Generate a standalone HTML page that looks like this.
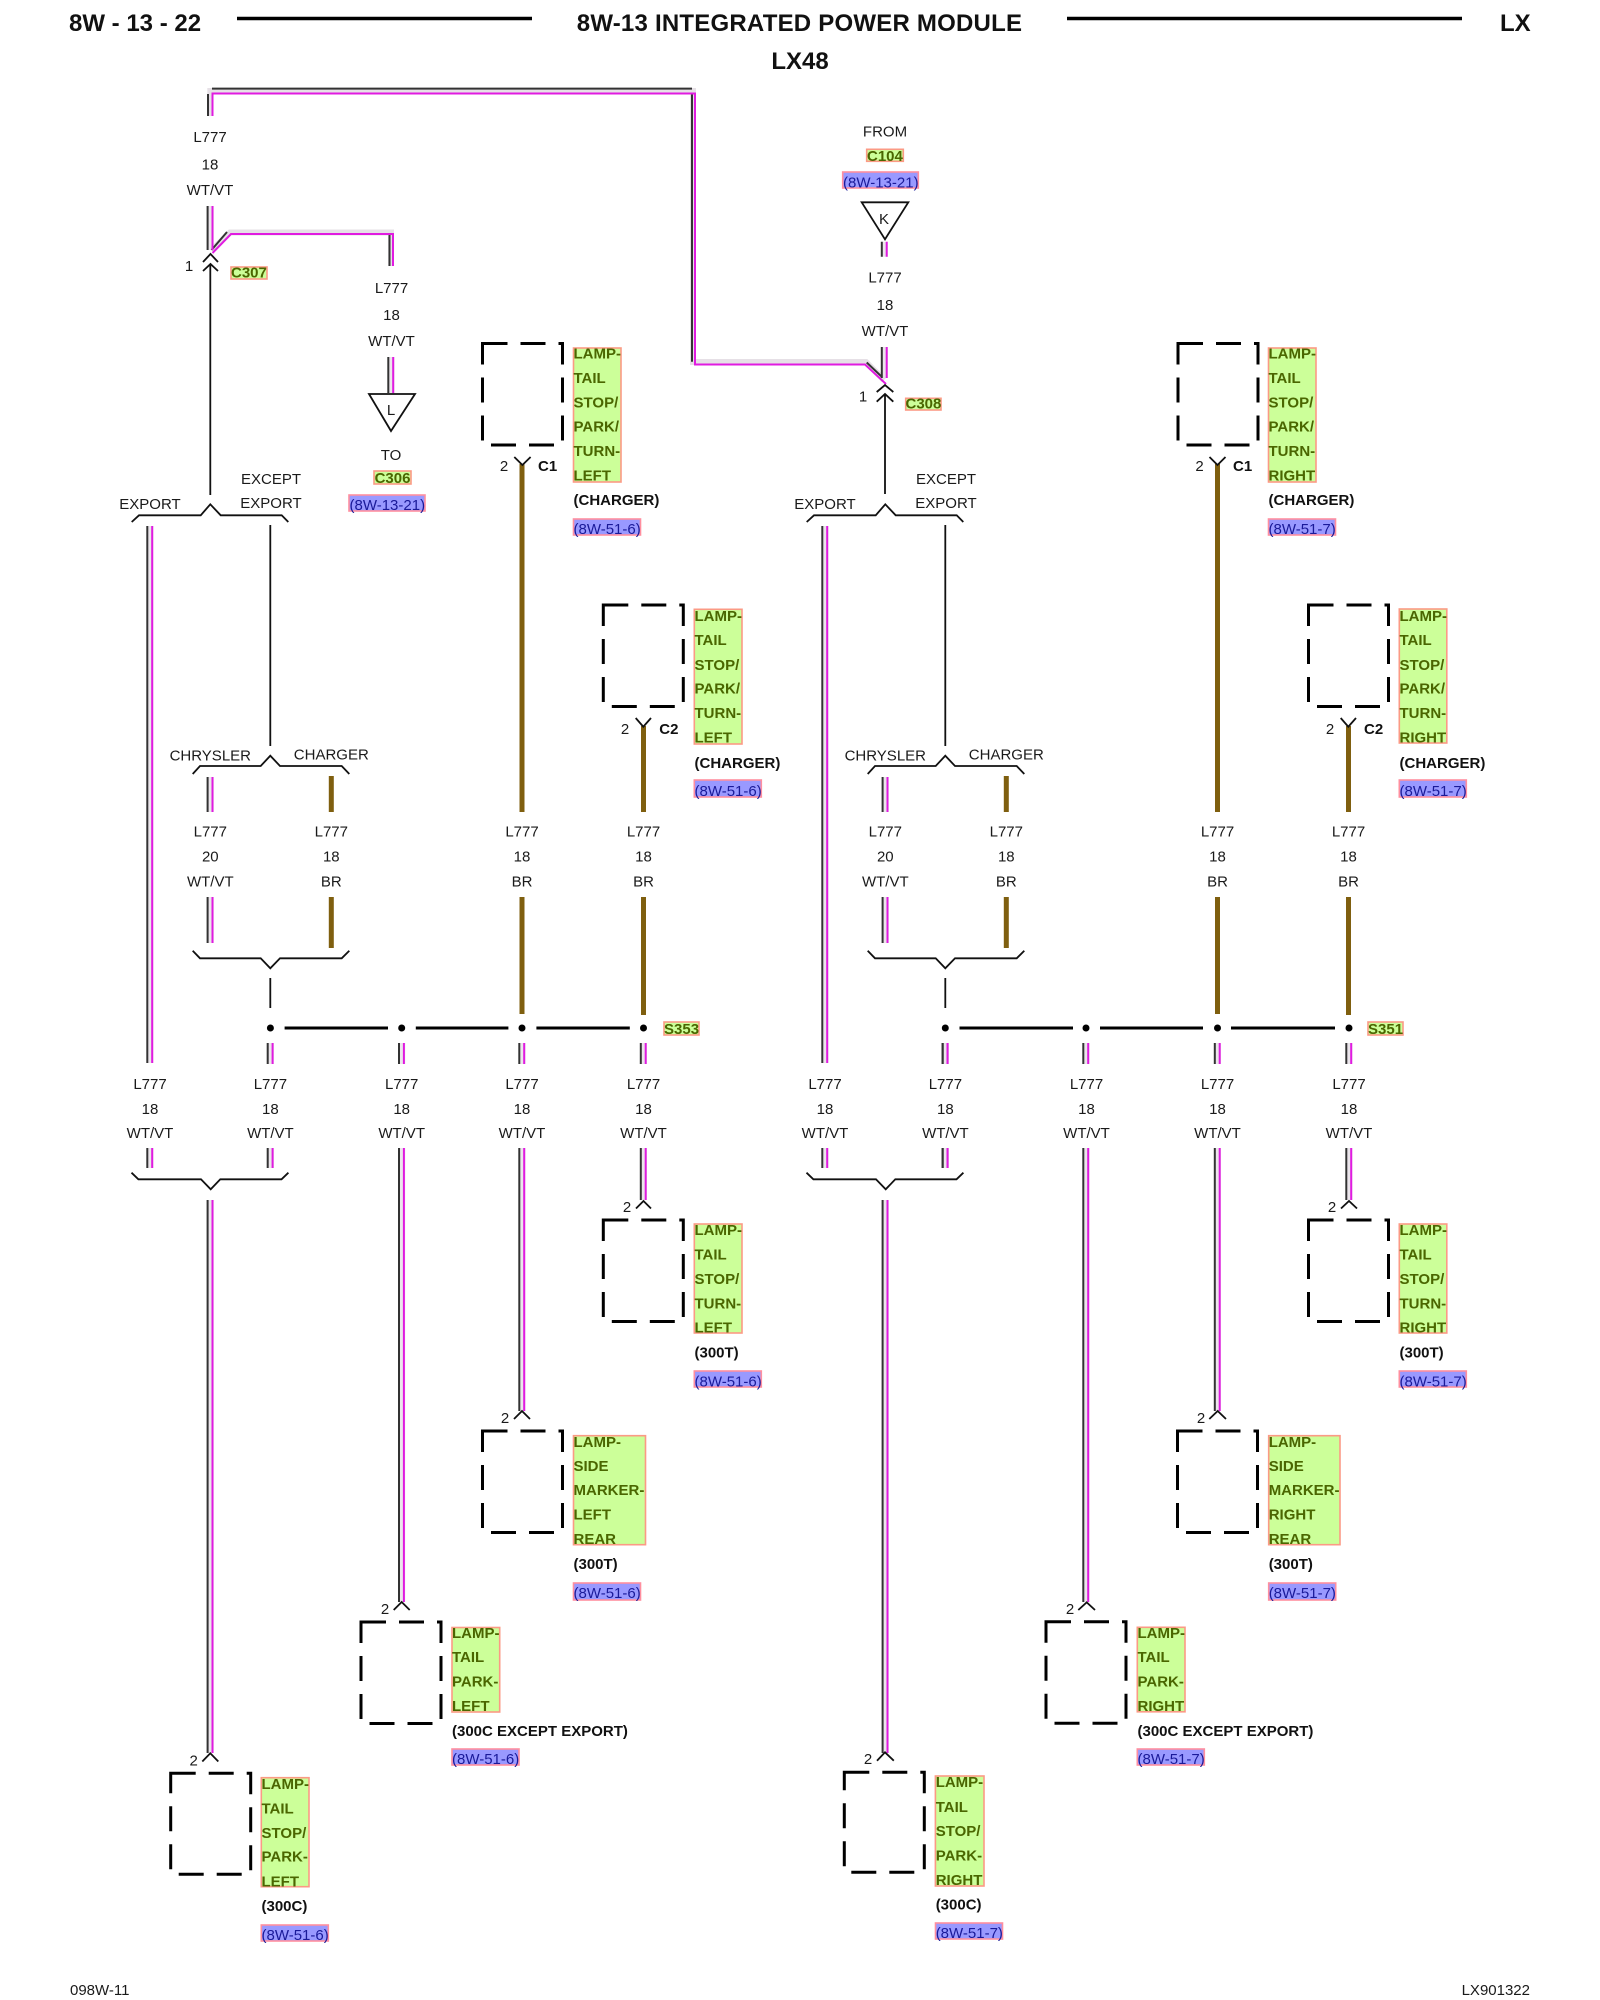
<!DOCTYPE html>
<html><head><meta charset="utf-8"><style>
html,body{margin:0;padding:0;background:#fff}
svg{display:block}
text{font-family:"Liberation Sans",Arial,sans-serif;font-size:15px;fill:#1a1a1a}
.c{text-anchor:middle}
.t{font-size:24px;font-weight:bold;fill:#111}
.b{font-weight:bold;fill:#111}
.g{font-weight:bold;fill:#4a6600}
.r{fill:#1a1a99}
.gb{fill:#ccff99;stroke:#fb9a85;stroke-width:1.6}
.rb{fill:#9999ff;stroke:#ff8f9f;stroke-width:1.6}
.d{fill:none;stroke:#000;stroke-width:3;stroke-dasharray:25 13}
.l{fill:none;stroke:#111;stroke-width:1.8}
.br{fill:none;stroke:#7f5f0f;stroke-width:5}
.bus{fill:none;stroke:#000;stroke-width:3}
</style></head><body>
<svg xmlns="http://www.w3.org/2000/svg" width="1600" height="2000" viewBox="0 0 1600 2000">
<rect width="1600" height="2000" fill="#fff"/>
<defs>
<path id="w" fill="none" d="M150 526V1063M150 1148V1168M210.3 777V812M210.3 897V943M270.4 1043V1064M270.4 1148V1168M210.3 1200V1753"/>
<path id="w2" fill="none" d="M401.7 1043V1064M401.7 1148V1602M522 1043V1064M522 1148V1411M643.5 1043V1064M643.5 1148V1200M945.3 1043V1064M945.3 1148V1168M1086 1043V1064M1086 1148V1602M1217.5 1043V1064M1217.5 1148V1411M1349 1043V1064M1349 1148V1200M210.3 206V250M391 357V393M884.5 241.7V256.7M884.5 347V378"/>
<g id="s">
<path class="l" d="M270.3 525V746M270.3 978V1008"/>
<path class="l" d="M131.7 522L139 515.3H200.7L210.3 504.3L220.7 515.3H281.7L288.3 522"/>
<path class="l" d="M192.7 774L200 766H260.7L270.3 755.7L280 766H341.7L349.3 774"/>
<path class="l" d="M192.7 950.7L200 958.3H260.7L270.3 968.3L280 958.3H341.7L349.3 950.7"/>
<path class="l" d="M131.5 1172.7L138.4 1179.3H201L210.7 1189.3L220.3 1179.3H281.5L288.4 1172.7"/>
<path class="br" d="M331.3 776V812M331.3 897V948"/>
</g>
</defs>

<!-- header -->
<text class="t" x="69" y="31">8W - 13 - 22</text>
<path d="M237 18.5H532M1067 18.5H1462" stroke="#000" stroke-width="3.5"/>
<text class="t c" x="799.5" y="31" style="letter-spacing:.22px">8W-13 INTEGRATED POWER MODULE</text>
<text class="t" x="1500" y="31">LX</text>
<text class="t c" x="800" y="69">LX48</text>

<!-- wire haze -->
<g stroke="#ebe6eb" stroke-width="7">
<use href="#w"/><use href="#w" x="675"/><use href="#w2"/>
</g>
<!-- upper routed wire -->
<path fill="none" stroke="#e6e0e6" stroke-width="6" d="M210.3 116V91H693V362H866L884 380M212 250L230 232.5H391V266"/>
<g stroke="#333" stroke-width="2" fill="none">
<use href="#w" x="-2.7"/><use href="#w" x="672.3"/><use href="#w2" x="-2.7"/>
<path d="M208 94V116M212 88.6H692M692 93V361.7M211.5 250L227 232M389.5 234V266M866.7 362.5L881.7 376.7"/>
</g>
<g stroke="#e01be0" stroke-width="2" fill="none">
<use href="#w" x="2.2"/><use href="#w" x="677.2"/><use href="#w2" x="2.2"/>
<path d="M212.5 116V93.5H695V364.5H865L886 384M212.5 253L231 234H393V266"/>
</g>

<use href="#s"/>
<use href="#s" x="675"/>

<!-- inline connectors C307 / C308 with their black leads -->
<path class="l" d="M210.3 264V495M203 262L210.5 254L218 262M203 271L210.5 264L218 271"/>
<path class="l" d="M885 394V494M876.7 392L885 385L893.3 392M876.7 401.7L885 394L893.3 401.7"/>

<!-- brown wires -->
<path class="br" d="M522 464V812M522 897V1014M643.5 726V812M643.5 897V1015M1217.5 464V812M1217.5 897V1014M1348.5 726V812M1348.5 897V1015"/>

<!-- connectors -->
<path class="l" d="M514.3 457L522.4 465L530.6 457M635.7 718L643.3 726.7L651 718M1209.5 457L1217.5 465L1225.5 457M1340.7 718L1348.3 726.7L1356 718"/>
<path class="l" d="M636 1208.5L643.5 1201L651 1208.5M514 1419L522 1411L530 1419M393.7 1610L401.7 1602L409.7 1610M202.3 1761.5L210.3 1753.3L218.3 1761.5"/>
<path class="l" d="M1341 1208.5L1349 1201L1357 1208.5M1209.3 1419L1217.7 1411L1226 1419M1078.3 1610L1086.7 1602.3L1095 1610M877 1760.7L885 1752.3L893.8 1760.7"/>

<!-- triangles -->
<path class="l" d="M369 394H415L391 431Z"/>
<path class="l" d="M861.7 202.3H908.3L885 239.3Z"/>

<!-- bus -->
<path class="bus" d="M284.6 1028H388M415.8 1028H508.4M536.4 1028H629.8M959.5 1028H1073M1100 1028H1203M1231 1028H1335"/>
<g fill="#000">
<circle cx="270.4" cy="1028" r="3.5"/><circle cx="401.7" cy="1028" r="3.5"/><circle cx="522" cy="1028" r="3.5"/><circle cx="643.5" cy="1028" r="3.5"/>
<circle cx="945.3" cy="1028" r="3.5"/><circle cx="1086" cy="1028" r="3.5"/><circle cx="1217.5" cy="1028" r="3.5"/><circle cx="1349" cy="1028" r="3.5"/>
</g>

<!-- dashed component boxes -->
<rect class="d" x="482.5" y="343.5" width="80" height="101.5"/>
<rect class="d" x="603.3" y="605" width="80" height="101.5"/>
<rect class="d" x="603.3" y="1220" width="80" height="101.5"/>
<rect class="d" x="482.5" y="1431" width="80" height="101.5"/>
<rect class="d" x="361" y="1622" width="80" height="101.5"/>
<rect class="d" x="170.7" y="1773.3" width="80" height="101"/>
<rect class="d" x="1178" y="343.5" width="80" height="101.5"/>
<rect class="d" x="1308.5" y="605" width="80" height="101.5"/>
<rect class="d" x="1308.5" y="1220" width="80" height="101.5"/>
<rect class="d" x="1177.5" y="1431" width="80" height="101.5"/>
<rect class="d" x="1046" y="1621.7" width="80" height="101.5"/>
<rect class="d" x="844.3" y="1772.3" width="80" height="100"/>

<!-- green/blue tag boxes -->
<rect class="gb" x="231" y="267" width="36" height="12"/>
<rect class="gb" x="374" y="471" width="37" height="13"/>
<rect class="rb" x="349" y="495" width="76" height="16"/>
<rect class="gb" x="866.7" y="149.3" width="36.6" height="12"/>
<rect class="rb" x="842.7" y="172" width="75.6" height="16"/>
<rect class="gb" x="905.7" y="398.3" width="35.3" height="11.7"/>
<rect class="gb" x="664" y="1022" width="35" height="13"/>
<rect class="gb" x="1368" y="1022" width="35" height="13"/>

<rect class="gb" x="573.5" y="348" width="47.5" height="134"/>
<rect class="rb" x="573.5" y="519" width="67" height="16"/>
<rect class="gb" x="694.3" y="609.3" width="47.7" height="134.7"/>
<rect class="rb" x="694.3" y="780" width="67" height="17"/>
<rect class="gb" x="694.3" y="1224" width="47.7" height="109"/>
<rect class="rb" x="694.3" y="1371" width="67" height="16"/>
<rect class="gb" x="573.5" y="1435.7" width="72" height="109"/>
<rect class="rb" x="573.5" y="1583" width="67" height="17"/>
<rect class="gb" x="452" y="1627.5" width="47.7" height="84.5"/>
<rect class="rb" x="452" y="1749" width="67" height="16"/>
<rect class="gb" x="261.3" y="1777.7" width="47.7" height="109"/>
<rect class="rb" x="261.3" y="1925" width="67" height="16"/>

<rect class="gb" x="1268.5" y="348" width="47.5" height="134"/>
<rect class="rb" x="1268.5" y="519" width="67" height="16"/>
<rect class="gb" x="1399.3" y="609" width="47.5" height="134"/>
<rect class="rb" x="1399.3" y="780" width="67" height="17"/>
<rect class="gb" x="1399.3" y="1224" width="47.5" height="109"/>
<rect class="rb" x="1399.3" y="1371" width="67" height="16"/>
<rect class="gb" x="1268.7" y="1435.7" width="71.3" height="109"/>
<rect class="rb" x="1268.7" y="1583" width="67" height="17"/>
<rect class="gb" x="1137.3" y="1627.3" width="47.7" height="84.5"/>
<rect class="rb" x="1137.3" y="1749" width="67" height="16"/>
<rect class="gb" x="935.4" y="1776" width="48.6" height="110"/>
<rect class="rb" x="935.5" y="1923" width="67" height="16"/>

<!-- wire labels: upper left -->
<text class="c" x="210" y="142">L777</text><text class="c" x="210" y="169.5">18</text><text class="c" x="210" y="195">WT/VT</text>
<text class="c" x="391.5" y="293">L777</text><text class="c" x="391.5" y="320">18</text><text class="c" x="391.5" y="346">WT/VT</text>
<text class="c" x="391" y="415">L</text>
<text class="c" x="391" y="460">TO</text>
<text class="g c" x="392.5" y="483">C306</text>
<text class="r" x="349.5" y="510">(8W-13-21)</text>
<text class="c" x="189" y="271">1</text>
<text class="g" x="231" y="277.5">C307</text>

<text class="c" x="150" y="509">EXPORT</text>
<text class="c" x="271" y="484">EXCEPT</text><text class="c" x="271" y="508">EXPORT</text>
<text class="c" x="210.3" y="760.7">CHRYSLER</text><text class="c" x="331.3" y="759.3">CHARGER</text>

<!-- wire labels: upper right -->
<text class="c" x="885" y="136.7">FROM</text>
<text class="g" x="867" y="161">C104</text>
<text class="r" x="843" y="187.5">(8W-13-21)</text>
<text class="c" x="884" y="224">K</text>
<text class="c" x="885" y="282.7">L777</text><text class="c" x="885" y="310">18</text><text class="c" x="885" y="336">WT/VT</text>
<text class="c" x="863" y="401.7">1</text>
<text class="g" x="905.5" y="408.5">C308</text>

<text class="c" x="825" y="509">EXPORT</text>
<text class="c" x="946" y="484">EXCEPT</text><text class="c" x="946" y="508">EXPORT</text>
<text class="c" x="885.3" y="760.7">CHRYSLER</text><text class="c" x="1006.3" y="759.3">CHARGER</text>

<!-- mid row labels -->
<text class="c" x="210.3" y="836.7">L777</text><text class="c" x="210.3" y="861.7">20</text><text class="c" x="210.3" y="886.7">WT/VT</text>
<text class="c" x="331.3" y="836.7">L777</text><text class="c" x="331.3" y="861.7">18</text><text class="c" x="331.3" y="886.7">BR</text>
<text class="c" x="522" y="836.7">L777</text><text class="c" x="522" y="861.7">18</text><text class="c" x="522" y="886.7">BR</text>
<text class="c" x="643.5" y="836.7">L777</text><text class="c" x="643.5" y="861.7">18</text><text class="c" x="643.5" y="886.7">BR</text>
<text class="c" x="885.3" y="836.7">L777</text><text class="c" x="885.3" y="861.7">20</text><text class="c" x="885.3" y="886.7">WT/VT</text>
<text class="c" x="1006.3" y="836.7">L777</text><text class="c" x="1006.3" y="861.7">18</text><text class="c" x="1006.3" y="886.7">BR</text>
<text class="c" x="1217.5" y="836.7">L777</text><text class="c" x="1217.5" y="861.7">18</text><text class="c" x="1217.5" y="886.7">BR</text>
<text class="c" x="1348.5" y="836.7">L777</text><text class="c" x="1348.5" y="861.7">18</text><text class="c" x="1348.5" y="886.7">BR</text>

<!-- lower row labels -->
<text class="c" x="150" y="1089">L777</text><text class="c" x="150" y="1114">18</text><text class="c" x="150" y="1138">WT/VT</text>
<text class="c" x="270.4" y="1089">L777</text><text class="c" x="270.4" y="1114">18</text><text class="c" x="270.4" y="1138">WT/VT</text>
<text class="c" x="401.7" y="1089">L777</text><text class="c" x="401.7" y="1114">18</text><text class="c" x="401.7" y="1138">WT/VT</text>
<text class="c" x="522" y="1089">L777</text><text class="c" x="522" y="1114">18</text><text class="c" x="522" y="1138">WT/VT</text>
<text class="c" x="643.5" y="1089">L777</text><text class="c" x="643.5" y="1114">18</text><text class="c" x="643.5" y="1138">WT/VT</text>
<text class="c" x="825" y="1089">L777</text><text class="c" x="825" y="1114">18</text><text class="c" x="825" y="1138">WT/VT</text>
<text class="c" x="945.4" y="1089">L777</text><text class="c" x="945.4" y="1114">18</text><text class="c" x="945.4" y="1138">WT/VT</text>
<text class="c" x="1086.5" y="1089">L777</text><text class="c" x="1086.5" y="1114">18</text><text class="c" x="1086.5" y="1138">WT/VT</text>
<text class="c" x="1217.5" y="1089">L777</text><text class="c" x="1217.5" y="1114">18</text><text class="c" x="1217.5" y="1138">WT/VT</text>
<text class="c" x="1349" y="1089">L777</text><text class="c" x="1349" y="1114">18</text><text class="c" x="1349" y="1138">WT/VT</text>

<text class="g" x="664" y="1034">S353</text>
<text class="g" x="1368" y="1034">S351</text>

<!-- pin numbers -->
<text class="c" x="504" y="471">2</text><text class="b" x="538" y="471">C1</text>
<text class="c" x="625" y="734">2</text><text class="b" x="659.3" y="734">C2</text>
<text class="c" x="1199.5" y="471">2</text><text class="b" x="1233" y="471">C1</text>
<text class="c" x="1330" y="734">2</text><text class="b" x="1364" y="734">C2</text>
<text class="c" x="627" y="1212">2</text><text class="c" x="505" y="1423">2</text><text class="c" x="385" y="1614">2</text><text class="c" x="193.7" y="1765.7">2</text>
<text class="c" x="1332" y="1212">2</text><text class="c" x="1201" y="1423">2</text><text class="c" x="1070" y="1614">2</text><text class="c" x="868" y="1764">2</text>

<!-- component labels left -->
<text class="g"><tspan x="573.5" y="358.5">LAMP-</tspan><tspan x="573.5" y="383">TAIL</tspan><tspan x="573.5" y="407.5">STOP/</tspan><tspan x="573.5" y="431.5">PARK/</tspan><tspan x="573.5" y="456">TURN-</tspan><tspan x="573.5" y="480.5">LEFT</tspan></text>
<text class="b" x="573.5" y="505">(CHARGER)</text><text class="r" x="573.5" y="534">(8W-51-6)</text>

<text class="g"><tspan x="694.5" y="621">LAMP-</tspan><tspan x="694.5" y="645">TAIL</tspan><tspan x="694.5" y="670">STOP/</tspan><tspan x="694.5" y="693.5">PARK/</tspan><tspan x="694.5" y="718">TURN-</tspan><tspan x="694.5" y="742.5">LEFT</tspan></text>
<text class="b" x="694.5" y="768">(CHARGER)</text><text class="r" x="694.5" y="796">(8W-51-6)</text>

<text class="g"><tspan x="694.5" y="1235">LAMP-</tspan><tspan x="694.5" y="1259.5">TAIL</tspan><tspan x="694.5" y="1284">STOP/</tspan><tspan x="694.5" y="1308.5">TURN-</tspan><tspan x="694.5" y="1332.5">LEFT</tspan></text>
<text class="b" x="694.5" y="1357.5">(300T)</text><text class="r" x="694.5" y="1386.5">(8W-51-6)</text>

<text class="g"><tspan x="573.5" y="1447">LAMP-</tspan><tspan x="573.5" y="1471">SIDE</tspan><tspan x="573.5" y="1495">MARKER-</tspan><tspan x="573.5" y="1519.5">LEFT</tspan><tspan x="573.5" y="1544">REAR</tspan></text>
<text class="b" x="573.5" y="1569">(300T)</text><text class="r" x="573.5" y="1598">(8W-51-6)</text>

<text class="g"><tspan x="452" y="1638">LAMP-</tspan><tspan x="452" y="1662">TAIL</tspan><tspan x="452" y="1686.7">PARK-</tspan><tspan x="452" y="1711">LEFT</tspan></text>
<text class="b" x="452" y="1736">(300C EXCEPT EXPORT)</text><text class="r" x="452" y="1764">(8W-51-6)</text>

<text class="g"><tspan x="261.5" y="1789">LAMP-</tspan><tspan x="261.5" y="1813.3">TAIL</tspan><tspan x="261.5" y="1838">STOP/</tspan><tspan x="261.5" y="1861.7">PARK-</tspan><tspan x="261.5" y="1886.5">LEFT</tspan></text>
<text class="b" x="261.5" y="1911">(300C)</text><text class="r" x="261.5" y="1940">(8W-51-6)</text>

<!-- component labels right -->
<text class="g"><tspan x="1268.5" y="358.5">LAMP-</tspan><tspan x="1268.5" y="383">TAIL</tspan><tspan x="1268.5" y="407.5">STOP/</tspan><tspan x="1268.5" y="431.5">PARK/</tspan><tspan x="1268.5" y="456">TURN-</tspan><tspan x="1268.5" y="480.5">RIGHT</tspan></text>
<text class="b" x="1268.5" y="505">(CHARGER)</text><text class="r" x="1268.5" y="534">(8W-51-7)</text>

<text class="g"><tspan x="1399.5" y="621">LAMP-</tspan><tspan x="1399.5" y="645">TAIL</tspan><tspan x="1399.5" y="670">STOP/</tspan><tspan x="1399.5" y="693.5">PARK/</tspan><tspan x="1399.5" y="718">TURN-</tspan><tspan x="1399.5" y="742.5">RIGHT</tspan></text>
<text class="b" x="1399.5" y="768">(CHARGER)</text><text class="r" x="1399.5" y="796">(8W-51-7)</text>

<text class="g"><tspan x="1399.5" y="1235">LAMP-</tspan><tspan x="1399.5" y="1259.5">TAIL</tspan><tspan x="1399.5" y="1284">STOP/</tspan><tspan x="1399.5" y="1308.5">TURN-</tspan><tspan x="1399.5" y="1332.5">RIGHT</tspan></text>
<text class="b" x="1399.5" y="1357.5">(300T)</text><text class="r" x="1399.5" y="1386.5">(8W-51-7)</text>

<text class="g"><tspan x="1268.7" y="1447">LAMP-</tspan><tspan x="1268.7" y="1471">SIDE</tspan><tspan x="1268.7" y="1495">MARKER-</tspan><tspan x="1268.7" y="1519.5">RIGHT</tspan><tspan x="1268.7" y="1544">REAR</tspan></text>
<text class="b" x="1268.7" y="1569">(300T)</text><text class="r" x="1268.7" y="1598">(8W-51-7)</text>

<text class="g"><tspan x="1137.5" y="1638">LAMP-</tspan><tspan x="1137.5" y="1662">TAIL</tspan><tspan x="1137.5" y="1686.7">PARK-</tspan><tspan x="1137.5" y="1711">RIGHT</tspan></text>
<text class="b" x="1137.5" y="1736">(300C EXCEPT EXPORT)</text><text class="r" x="1137.5" y="1764">(8W-51-7)</text>

<text class="g"><tspan x="935.7" y="1787">LAMP-</tspan><tspan x="935.7" y="1812">TAIL</tspan><tspan x="935.7" y="1836">STOP/</tspan><tspan x="935.7" y="1860.5">PARK-</tspan><tspan x="935.7" y="1885">RIGHT</tspan></text>
<text class="b" x="935.7" y="1909.5">(300C)</text><text class="r" x="935.7" y="1938">(8W-51-7)</text>

<!-- footer -->
<text x="70" y="1995">098W-11</text>
<text x="1530" y="1995" text-anchor="end">LX901322</text>
</svg>
</body></html>
